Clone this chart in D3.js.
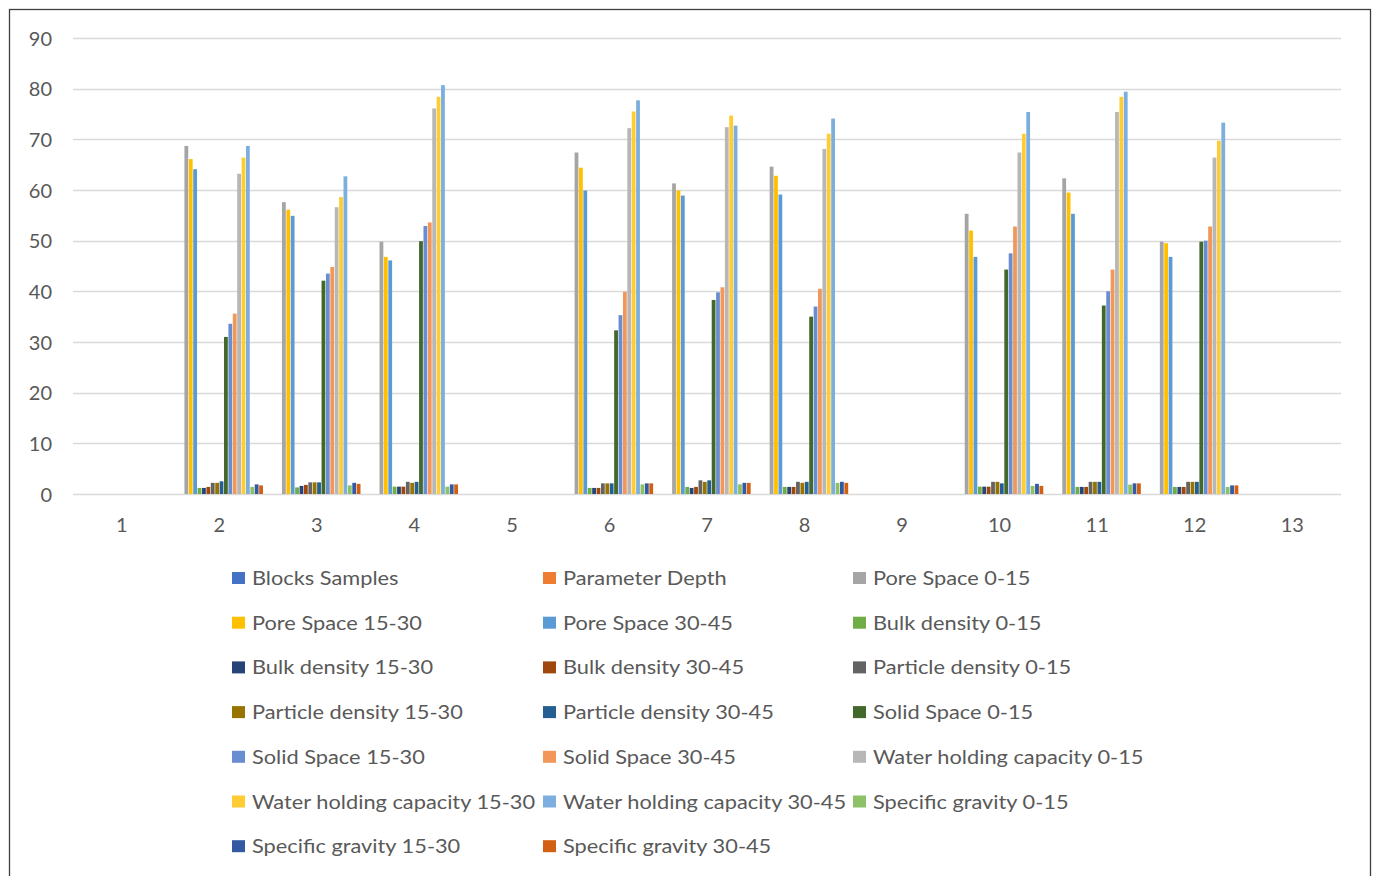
<!DOCTYPE html>
<html>
<head>
<meta charset="utf-8">
<script src="https://cdn.jsdelivr.net/npm/d3@7"></script>
<style>
  html, body { margin: 0; padding: 0; background: #ffffff; }
  svg { display: block; }
  text { font-family: Lato, "Open Sans", sans-serif; fill: #595959; }
</style>
</head>
<body>
<svg id="chart" width="1376" height="876"></svg>
<script>
// Soil physical properties by block sample (depths in cm)
const categories = ["1","2","3","4","5","6","7","8","9","10","11","12","13"];
const yTicks = [0,10,20,30,40,50,60,70,80,90];

const seriesNames = [
  "Blocks Samples", "Parameter Depth",
  "Pore Space 0-15", "Pore Space 15-30", "Pore Space 30-45",
  "Bulk density 0-15", "Bulk density 15-30", "Bulk density 30-45",
  "Particle density 0-15", "Particle density 15-30", "Particle density 30-45",
  "Solid Space 0-15", "Solid Space 15-30", "Solid Space 30-45",
  "Water holding capacity 0-15", "Water holding capacity 15-30", "Water holding capacity 30-45",
  "Specific gravity 0-15", "Specific gravity 15-30", "Specific gravity 30-45"
];

const seriesColors = [
  "#4472C4", "#ED7D31", "#A5A5A5", "#FFC000", "#5B9BD5", "#70AD47",
  "#264478", "#9E480E", "#636363", "#997300", "#255E91", "#43682B",
  "#698ED0", "#F1975A", "#B7B7B7", "#FFCD33", "#7CAFDD", "#8CC168",
  "#335AA1", "#D26012"
];

const blocksSamples      = [null,null,null,null,null,null,null,null,null,null,null,null,null];
const parameterDepth     = [null,null,null,null,null,null,null,null,null,null,null,null,null];
const poreSpace0_15      = [null, 68.7, 57.6, 49.8, null, 67.4, 61.3, 64.6, null, 55.3, 62.3, 49.8, null];
const poreSpace15_30     = [null, 66.1, 56.1, 46.8, null, 64.4, 59.9, 62.8, null, 52.0, 59.5, 49.5, null];
const poreSpace30_45     = [null, 64.1, 54.9, 46.1, null, 59.9, 58.9, 59.1, null, 46.8, 55.3, 46.8, null];
const bulkDensity0_15    = [null, 1.2, 1.3, 1.45, null, 1.2, 1.4, 1.4, null, 1.45, 1.4, 1.4, null];
const bulkDensity15_30   = [null, 1.2, 1.6, 1.45, null, 1.2, 1.2, 1.4, null, 1.45, 1.4, 1.4, null];
const bulkDensity30_45   = [null, 1.4, 1.8, 1.45, null, 1.2, 1.4, 1.4, null, 1.45, 1.4, 1.4, null];
const particleDensity0_15  = [null, 2.2, 2.3, 2.4, null, 2.1, 2.7, 2.4, null, 2.4, 2.4, 2.4, null];
const particleDensity15_30 = [null, 2.2, 2.3, 2.2, null, 2.1, 2.4, 2.2, null, 2.4, 2.4, 2.4, null];
const particleDensity30_45 = [null, 2.5, 2.3, 2.4, null, 2.1, 2.7, 2.4, null, 2.1, 2.4, 2.4, null];
const solidSpace0_15     = [null, 31.0, 42.1, 49.9, null, 32.3, 38.3, 35.0, null, 44.3, 37.2, 49.8, null];
const solidSpace15_30    = [null, 33.6, 43.5, 52.9, null, 35.3, 39.8, 37.0, null, 47.5, 40.0, 50.0, null];
const solidSpace30_45    = [null, 35.6, 44.8, 53.6, null, 39.9, 40.8, 40.5, null, 52.8, 44.3, 52.8, null];
const whc0_15            = [null, 63.2, 56.6, 76.1, null, 72.2, 72.4, 68.1, null, 67.4, 75.4, 66.4, null];
const whc15_30           = [null, 66.4, 58.6, 78.4, null, 75.5, 74.7, 71.1, null, 71.1, 78.4, 69.7, null];
const whc30_45           = [null, 68.7, 62.7, 80.7, null, 77.7, 72.7, 74.1, null, 75.4, 79.4, 73.3, null];
const specificGravity0_15  = [null, 1.4, 1.7, 1.45, null, 1.9, 1.9, 2.2, null, 1.6, 1.85, 1.4, null];
const specificGravity15_30 = [null, 1.9, 2.2, 1.9, null, 2.1, 2.2, 2.4, null, 2.0, 2.1, 1.7, null];
const specificGravity30_45 = [null, 1.7, 2.0, 1.9, null, 2.1, 2.2, 2.2, null, 1.6, 2.1, 1.7, null];

const seriesValues = [
  blocksSamples, parameterDepth,
  poreSpace0_15, poreSpace15_30, poreSpace30_45,
  bulkDensity0_15, bulkDensity15_30, bulkDensity30_45,
  particleDensity0_15, particleDensity15_30, particleDensity30_45,
  solidSpace0_15, solidSpace15_30, solidSpace30_45,
  whc0_15, whc15_30, whc30_45,
  specificGravity0_15, specificGravity15_30, specificGravity30_45
];

const svg = d3.select("#chart");

// outer frame
svg.append("rect")
  .attr("x", 9.5).attr("y", 9.5)
  .attr("width", 1361).attr("height", 900)
  .attr("fill", "none").attr("stroke", "#3f3f3f").attr("stroke-width", 1.3);

const plot = { left: 73, right: 1341, top: 38, bottom: 494 };

const x0 = d3.scaleBand().domain(categories).range([plot.left, plot.right]).padding(0);
const x1 = d3.scaleBand().domain(d3.range(seriesNames.length))
  .range([0, x0.bandwidth()]).paddingInner(0).paddingOuter(1.095);
const y = d3.scaleLinear().domain([0, 90]).range([plot.bottom, plot.top]);

// horizontal gridlines
svg.append("g")
  .selectAll("line").data(yTicks).join("line")
  .attr("x1", plot.left).attr("x2", plot.right)
  .attr("y1", d => Math.round(y(d)) + 0.5).attr("y2", d => Math.round(y(d)) + 0.5)
  .attr("stroke", "#d9d9d9").attr("stroke-width", 1.3);

// y axis labels
const yAxis = d3.axisLeft(y).tickValues(yTicks).tickSize(0).tickPadding(0);
const gy = svg.append("g").attr("transform", `translate(52,0)`).call(yAxis);
gy.select(".domain").remove();
gy.selectAll("text").attr("font-size", 20).attr("font-family", "Lato, sans-serif").attr("fill", "#595959").attr("dy", "0.35em");

// x axis labels
const xAxis = d3.axisBottom(x0).tickSize(0).tickPadding(0);
const gx = svg.append("g").attr("transform", `translate(0,525)`).call(xAxis);
gx.select(".domain").remove();
gx.selectAll("text").attr("font-size", 20).attr("font-family", "Lato, sans-serif").attr("fill", "#595959").attr("dy", "0.35em");

// bars
const flat = [];
seriesValues.forEach((vals, si) => {
  vals.forEach((v, ci) => {
    if (v !== null) flat.push({ si, cat: categories[ci], v });
  });
});

svg.append("g")
  .selectAll("rect").data(flat).join("rect")
  .attr("x", d => x0(d.cat) + x1(d.si) + 0.3)
  .attr("width", x1.bandwidth() - 0.6)
  .attr("y", d => y(d.v))
  .attr("height", d => y(0) - y(d.v))
  .attr("fill", d => seriesColors[d.si]);

// legend: three columns, row-major; labels set slightly wide
const legendCols = [232, 543, 853];
const legendRowY = d => 578 + d * 44.7;
const legend = svg.append("g")
  .selectAll("g").data(seriesNames).join("g")
  .attr("transform", (d, i) => `translate(${legendCols[i % 3]},${legendRowY(Math.floor(i / 3))})`);
legend.append("rect")
  .attr("x", 0).attr("y", -6).attr("width", 13).attr("height", 12)
  .attr("fill", (d, i) => seriesColors[i]);
legend.append("text")
  .attr("transform", "translate(20,0) scale(1.09,1)")
  .attr("dy", "0.35em")
  .attr("font-size", 20)
  .text(d => d);
</script>
</body>
</html>
